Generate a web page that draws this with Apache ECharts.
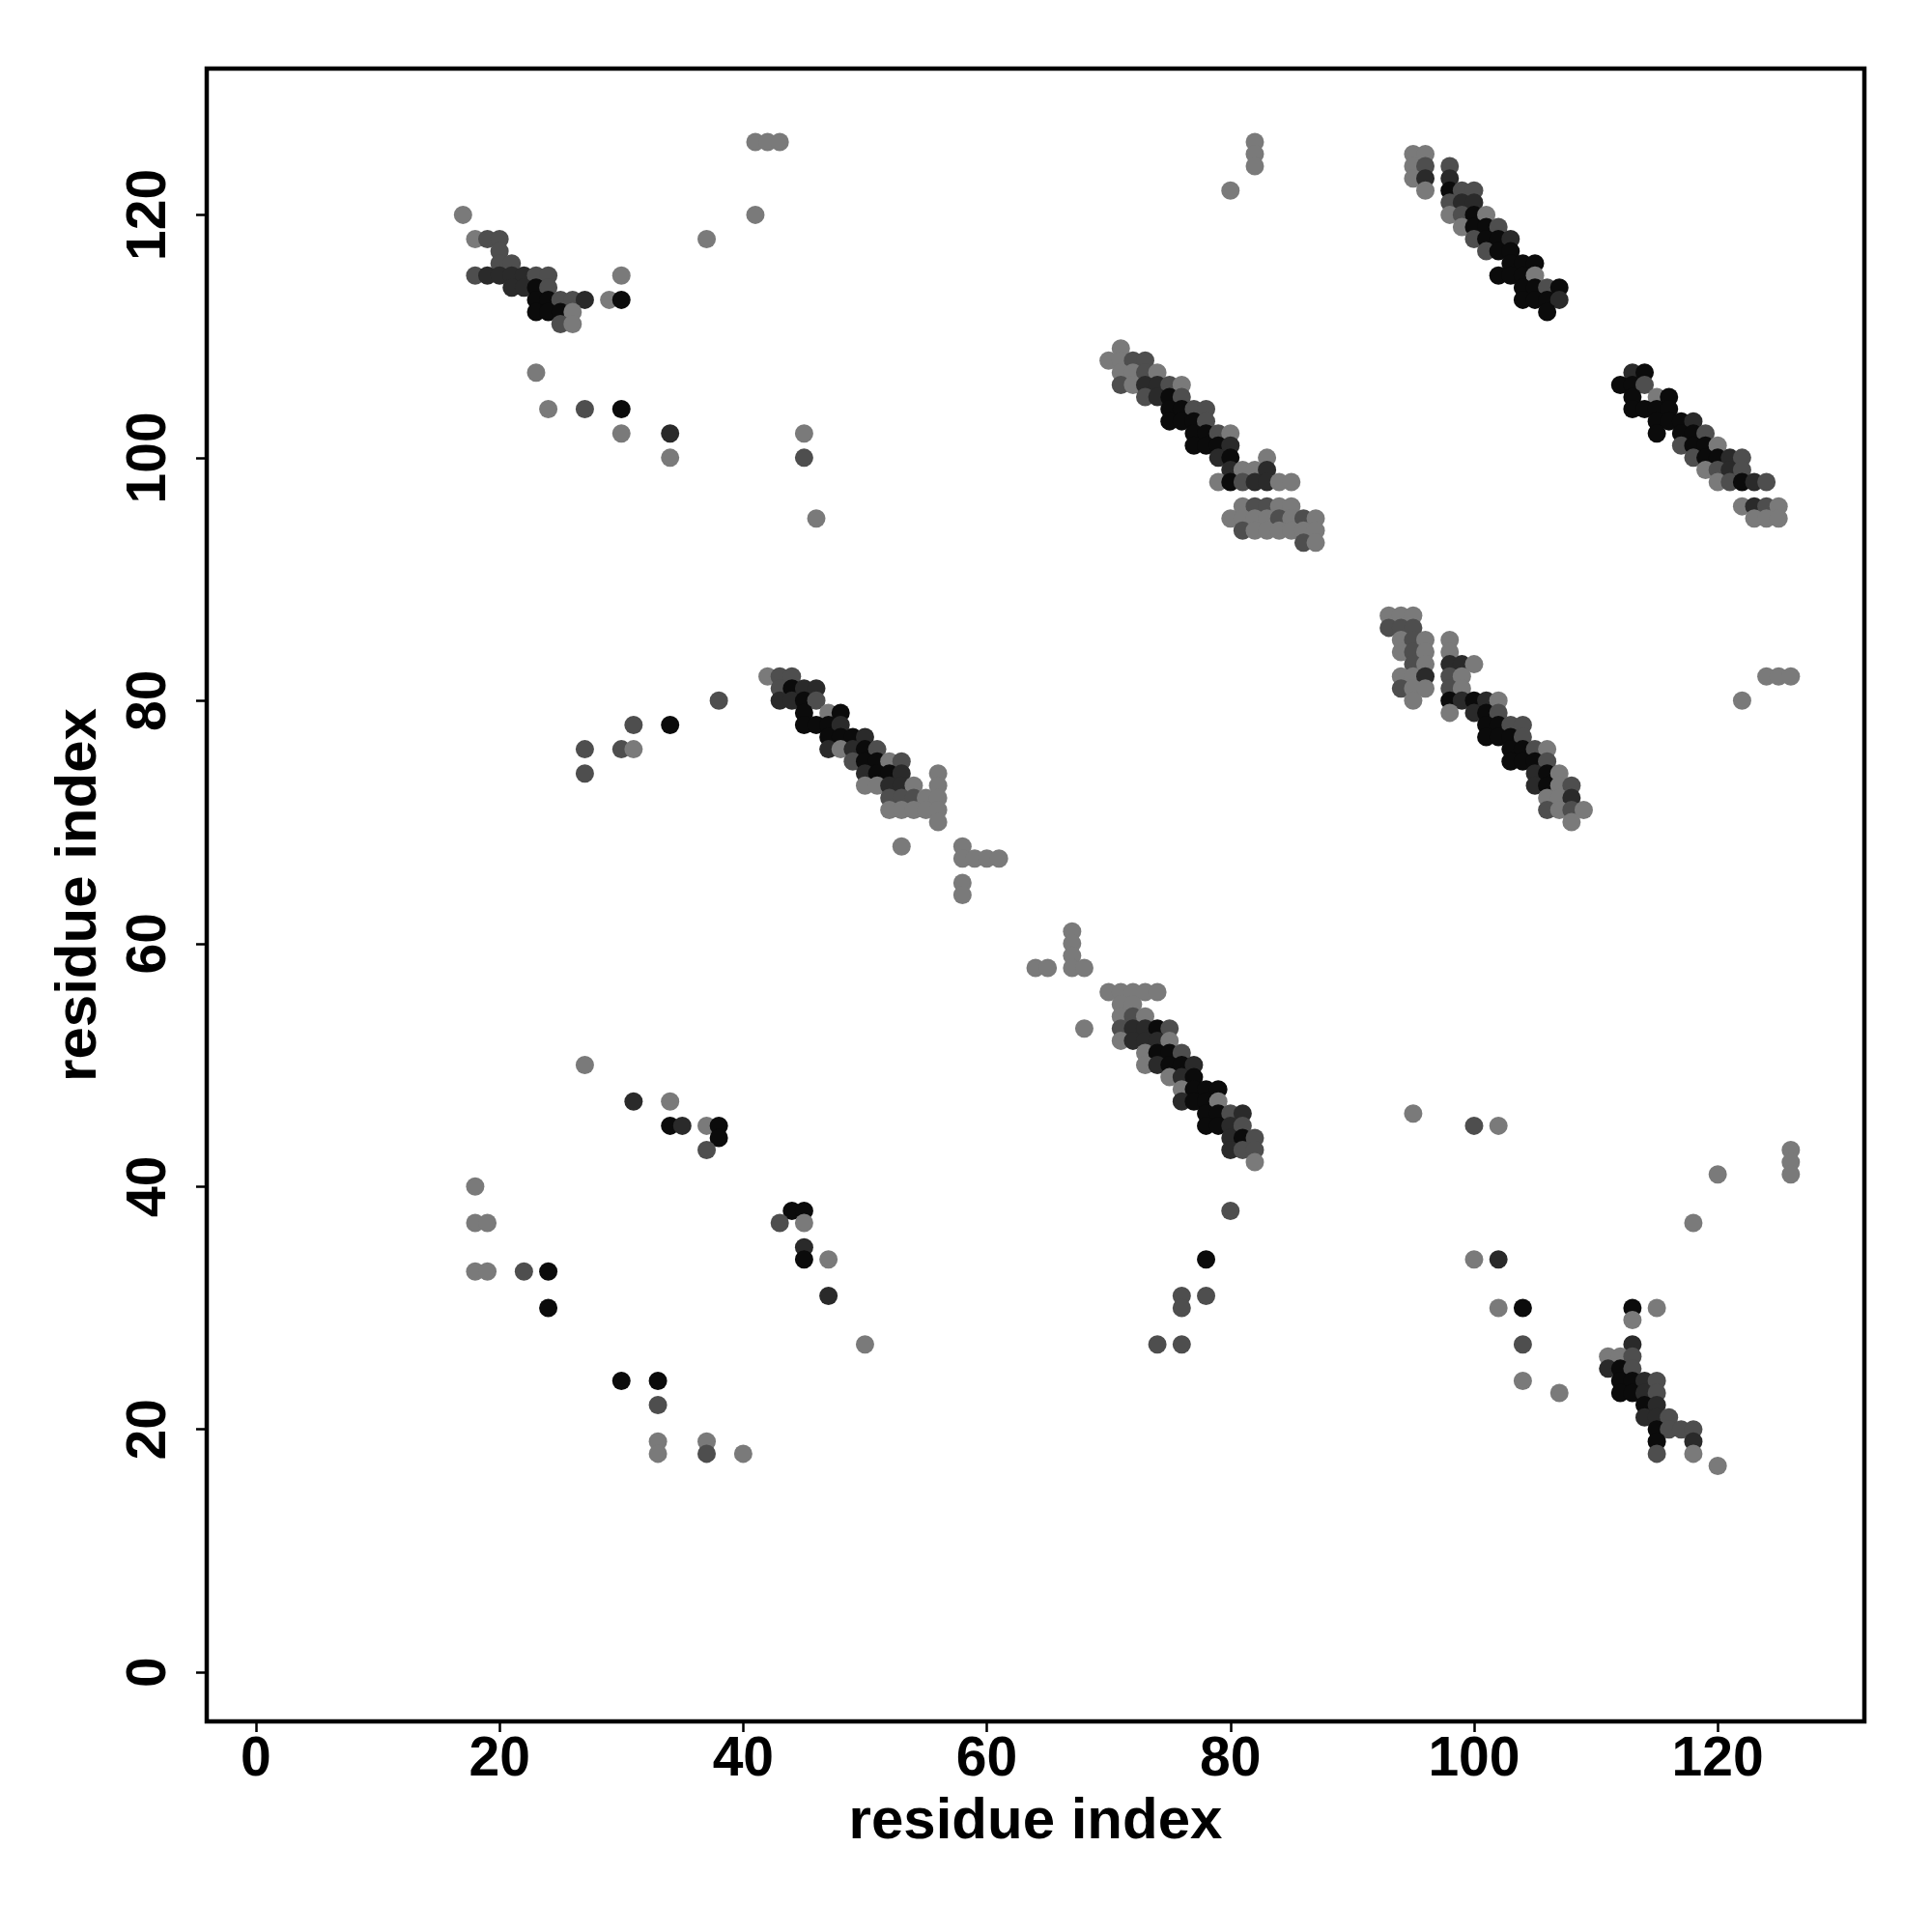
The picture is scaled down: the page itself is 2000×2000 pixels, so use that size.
<!DOCTYPE html>
<html><head><meta charset="utf-8">
<script src="https://cdn.jsdelivr.net/npm/echarts@6/dist/echarts.min.js"></script>
<style>html,body{margin:0;padding:0;background:#fff}#c{width:2000px;height:2000px}</style>
</head><body><div id="c"></div>
<script>
// tick labels on both axes
const tickValues = [0, 20, 40, 60, 80, 100, 120];
// shade level: 0 = black, 1 = dark, 2 = dark grey, 3 = grey
const shadeColors = ['#0b0b0b', '#2a2a2a', '#4e4e4e', '#7a7a7a'];

// [residue i, residue j, shade level]
const clusterTopLeft = [
  [41,126,3],[42,126,3],[43,126,3],[17,120,3],[41,120,3],[37,118,3],
  [18,118,3],[19,118,2],[20,118,2],[20,117,2],[20,116,2],[21,116,2],
  [18,115,2],[19,115,1],[20,115,1],[21,115,1],[22,115,1],[23,115,2],[24,115,2],[30,115,3],
  [21,114,1],[22,114,1],[23,114,0],[24,114,2],
  [23,113,0],[24,113,0],[25,113,2],[26,113,2],[27,113,1],[29,113,3],[30,113,0],
  [23,112,0],[24,112,0],[25,112,0],[26,112,3],
  [25,111,2],[26,111,3],
  [23,107,3],[24,104,3],[27,104,2],[30,104,0],[30,102,3],[34,102,1],[34,100,3],
  [45,102,3],[45,100,2],[46,95,3]
];
const clusterTopMiddle = [
  [82,126,3],[82,125,3],[82,124,3],[80,122,3],
  [71,109,3],
  [70,108,3],[71,108,3],[72,108,2],[73,108,2],
  [71,107,3],[72,107,3],[73,107,2],[74,107,3],
  [71,106,2],[72,106,3],[73,106,1],[74,106,1],[75,106,2],[76,106,3],
  [73,105,2],[74,105,1],[75,105,0],[76,105,2],
  [75,104,0],[76,104,0],[77,104,2],[78,104,2],
  [75,103,0],[76,103,0],[77,103,0],[78,103,2],
  [77,102,0],[78,102,0],[79,102,2],[80,102,3],
  [77,101,0],[78,101,0],[79,101,0],[80,101,1],
  [79,100,1],[80,100,0],[83,100,3],
  [80,99,1],[81,99,3],[82,99,3],[83,99,1],
  [79,98,3],[80,98,0],[81,98,2],[82,98,1],[83,98,1],[84,98,3],[85,98,3],
  [81,96,3],[82,96,2],[83,96,2],[84,96,3],[85,96,3],
  [80,95,3],[81,95,3],[82,95,3],[83,95,3],[84,95,2],[85,95,3],[86,95,2],[87,95,3],
  [81,94,2],[82,94,3],[83,94,3],[84,94,3],[85,94,3],[86,94,3],[87,94,3],
  [86,93,2],[87,93,3]
];
const clusterTopRight = [
  [95,125,3],[96,125,3],
  [95,124,3],[96,124,2],[98,124,2],
  [95,123,3],[96,123,1],[98,123,1],
  [96,122,3],[98,122,0],[99,122,2],[100,122,2],
  [98,121,2],[99,121,1],[100,121,1],
  [98,120,3],[99,120,2],[100,120,0],[101,120,3],
  [99,119,3],[100,119,0],[101,119,0],[102,119,2],
  [100,118,2],[101,118,0],[102,118,0],[103,118,1],
  [101,117,2],[102,117,0],[103,117,0],
  [103,116,0],[104,116,0],[105,116,0],
  [102,115,0],[103,115,0],[104,115,0],[105,115,3],
  [104,114,0],[105,114,0],[106,114,2],[107,114,0],
  [104,113,0],[105,113,0],[106,113,0],[107,113,1],
  [106,112,0]
];
const clusterRightUpper = [
  [113,107,1],[114,107,0],
  [112,106,0],[113,106,0],[114,106,2],
  [113,105,0],[115,105,3],[116,105,0],
  [113,104,0],[114,104,0],[115,104,0],[116,104,0],
  [115,103,0],[116,103,0],[117,103,0],[118,103,1],
  [115,102,0],[117,102,0],[118,102,0],[119,102,2],
  [117,101,2],[118,101,0],[119,101,0],[120,101,3],
  [118,100,2],[119,100,0],[120,100,0],[121,100,1],[122,100,2],
  [119,99,3],[120,99,2],[121,99,1],[122,99,2],
  [120,98,3],[121,98,2],[122,98,0],[123,98,1],[124,98,2],
  [122,96,3],[123,96,1],[124,96,2],[125,96,3],
  [123,95,3],[124,95,3],[125,95,3]
];
const clusterRightMiddle = [
  [93,87,3],[94,87,3],[95,87,3],
  [93,86,2],[94,86,2],[95,86,2],
  [94,85,3],[95,85,2],[96,85,3],[98,85,3],
  [94,84,3],[95,84,2],[96,84,3],[98,84,3],
  [95,83,2],[96,83,3],[98,83,1],[99,83,1],[100,83,3],
  [94,82,3],[95,82,3],[96,82,1],[98,82,2],[99,82,3],
  [94,81,2],[95,81,3],[96,81,3],[98,81,2],[99,81,3],
  [95,80,3],[98,80,0],[99,80,1],[100,80,0],[101,80,1],[102,80,3],
  [98,79,3],[100,79,1],[101,79,0],[102,79,2],
  [101,78,0],[102,78,0],[103,78,2],[104,78,2],
  [101,77,0],[102,77,0],[103,77,0],[104,77,2],
  [103,76,0],[104,76,0],[105,76,2],[106,76,3],
  [103,75,0],[104,75,0],[105,75,0],[106,75,2],
  [105,74,1],[106,74,0],[107,74,3],
  [105,73,1],[106,73,0],[107,73,3],[108,73,2],
  [106,72,3],[107,72,3],[108,72,1],
  [106,71,2],[107,71,3],[108,71,2],[109,71,3],
  [108,70,3],
  [124,82,3],[125,82,3],[126,82,3],[122,80,3]
];
const clusterCentreLeft = [
  [27,76,2],[27,74,2],[30,76,2],[31,76,3],[31,78,2],[34,78,0],[38,80,2],
  [42,82,3],[43,82,2],[44,82,2],
  [43,81,2],[44,81,0],[45,81,1],[46,81,1],
  [43,80,1],[44,80,1],[45,80,0],[46,80,2],
  [45,79,0],[47,79,3],[48,79,0],
  [45,78,0],[46,78,0],[47,78,0],[48,78,1],
  [47,77,0],[48,77,0],[49,77,0],[50,77,1],
  [47,76,1],[48,76,3],[49,76,1],[50,76,0],[51,76,2],
  [49,75,2],[50,75,0],[51,75,0],[52,75,3],[53,75,2],
  [50,74,1],[51,74,0],[52,74,0],[53,74,1],[56,74,3],
  [50,73,3],[51,73,3],[52,73,1],[53,73,1],[54,73,3],[56,73,3],
  [52,72,2],[53,72,2],[54,72,2],[55,72,3],[56,72,3],
  [52,71,3],[53,71,3],[54,71,3],[55,71,3],[56,71,3],
  [56,70,3],
  [53,68,3],[58,68,3],[58,67,3],[59,67,3],[60,67,3],[61,67,3],[58,65,3],[58,64,3]
];
const clusterCentre = [
  [67,61,3],[67,60,3],[67,59,3],[64,58,3],[65,58,3],[67,58,3],[68,58,3],[68,53,3],
  [70,56,3],[71,56,3],[72,56,3],[73,56,3],[74,56,3],
  [71,55,3],[72,55,3],
  [71,54,3],[72,54,2],[73,54,3],
  [71,53,2],[72,53,1],[73,53,1],[74,53,0],[75,53,2],
  [71,52,3],[72,52,1],[73,52,1],[74,52,1],[75,52,3],
  [73,51,3],[74,51,0],[75,51,0],[76,51,2],
  [73,50,3],[74,50,1],[75,50,0],[76,50,0],[77,50,1],
  [75,49,3],[76,49,1],[77,49,0],
  [76,48,3],[77,48,0],[78,48,0],[79,48,0],
  [76,47,1],[77,47,0],[78,47,0],[79,47,3],
  [78,46,0],[79,46,0],[80,46,2],[81,46,1],
  [78,45,0],[79,45,0],[80,45,1],[81,45,2],
  [80,44,1],[81,44,0],[82,44,2],
  [80,43,1],[81,43,2],[82,43,2],
  [82,42,3]
];
const clusterBottomLeft = [
  [27,50,3],[31,47,1],[34,47,3],[34,45,0],[35,45,1],[37,45,3],[38,45,0],[38,44,0],[37,43,2],
  [18,40,3],[18,37,3],[19,37,3],[18,33,3],[19,33,3],[22,33,2],[24,33,0],[24,30,0],
  [44,38,0],[45,38,0],[43,37,2],[45,37,3],[45,35,1],[45,34,0],[47,34,3],[47,31,1],[50,27,3],
  [30,24,0],[33,24,0],[33,22,2],[33,19,3],[37,19,3],[33,18,3],[37,18,2],[40,18,3]
];
const clusterBottomMiddle = [
  [80,38,2],[78,34,0],[76,31,2],[78,31,2],[76,30,2],[74,27,2],[76,27,2]
];
const clusterBottomRight = [
  [95,46,3],[100,45,2],[102,45,3],[126,43,3],[126,42,3],[126,41,3],[120,41,3],[118,37,3],
  [100,34,3],[102,34,1],[102,30,3],[104,30,0],[113,30,0],[115,30,3],[113,29,3],
  [104,27,2],[113,27,1],[111,26,3],[112,26,3],[113,26,2],
  [111,25,1],[112,25,0],[113,25,2],
  [104,24,3],[112,24,0],[113,24,0],[114,24,1],[115,24,2],
  [107,23,3],[112,23,0],[113,23,0],[114,23,1],[115,23,2],
  [114,22,0],[115,22,1],
  [114,21,1],[115,21,1],[116,21,2],
  [115,20,0],[116,20,2],[117,20,2],[118,20,2],
  [115,19,0],[118,19,1],
  [115,18,2],[118,18,3],
  [120,17,3]
];

const allContacts = [].concat(clusterTopLeft, clusterTopMiddle, clusterTopRight,
  clusterRightUpper, clusterRightMiddle, clusterCentreLeft, clusterCentre,
  clusterBottomLeft, clusterBottomMiddle, clusterBottomRight);

const FONT = '"Liberation Sans", Arial, Helvetica, sans-serif';
const axisMin = -4.04, axisMax = 132.04;

function makeAxis(isY) {
  return {
    type: 'value',
    min: axisMin, max: axisMax,
    name: 'residue index',
    nameLocation: 'middle',
    nameGap: isY ? 102 : 74,
    nameRotate: isY ? 90 : 0,
    nameTextStyle: { fontFamily: FONT, fontWeight: 'bold', fontSize: 60, color: '#000' },
    axisLine: { show: false, onZero: false },
    splitLine: { show: false },
    axisTick: { show: true, inside: false, length: 11, customValues: tickValues,
                lineStyle: { color: '#000', width: 2.5 } },
    axisLabel: { show: true, customValues: tickValues, rotate: isY ? 90 : 0,
                 margin: isY ? 30 : 12,
                 fontFamily: FONT, fontWeight: 'bold', fontSize: 57, color: '#000',
                 showMinLabel: true, showMaxLabel: true }
  };
}

const chart = echarts.init(document.getElementById('c'), null, { renderer: 'canvas' });
chart.setOption({
  animation: false,
  backgroundColor: '#fff',
  grid: { left: 214, top: 71, width: 1716, height: 1711, show: true,
          borderColor: '#000', borderWidth: 4.5, backgroundColor: 'transparent',
          containLabel: false, outerBoundsMode: 'none' },
  xAxis: makeAxis(false),
  yAxis: makeAxis(true),
  series: [{
    type: 'scatter',
    symbol: 'circle',
    symbolSize: 19,
    data: allContacts,
    itemStyle: { color: p => shadeColors[p.value[2]], opacity: 1 },
    emphasis: { disabled: true },
    silent: true
  }]
});
</script></body></html>
